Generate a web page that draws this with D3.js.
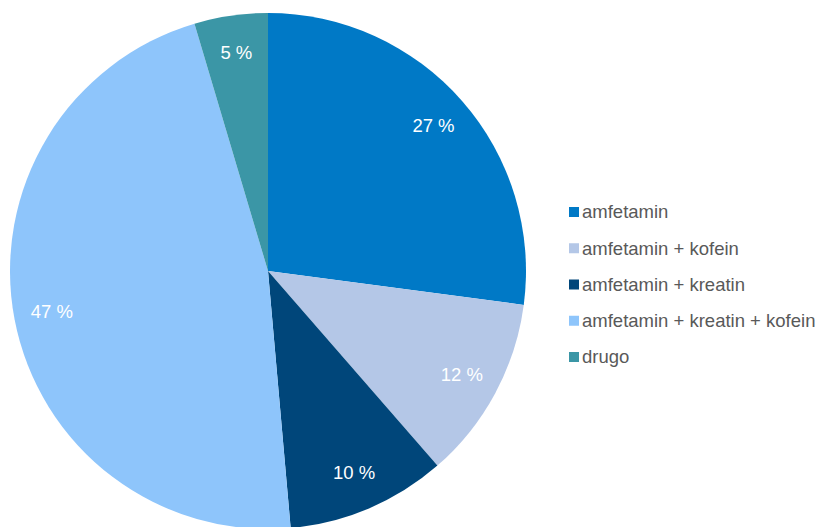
<!DOCTYPE html>
<html>
<head>
<meta charset="utf-8">
<script src="https://cdn.jsdelivr.net/npm/d3@7"></script>
<style>
  body { margin: 0; background: #fff; }
  text { font-family: "Liberation Sans", Arial, sans-serif; }
</style>
</head>
<body>
<div class="pie-chart"></div>
<script>
const categories = ["amfetamin", "amfetamin + kofein", "amfetamin + kreatin", "amfetamin + kreatin + kofein", "drugo"];
const values = [27.1, 11.5, 10.0, 46.8, 4.6];
const labels = ["27 %", "12 %", "10 %", "47 %", "5 %"];
const colors = ["#0079C6", "#B4C7E7", "#00467A", "#8EC5FB", "#3B96A6"];

const width = 818, height = 527;
const cx = 268, cy = 271, radius = 258;

const svg = d3.select(".pie-chart")
    .append("svg")
    .attr("width", width)
    .attr("height", height);

const data = categories.map((c, i) => ({name: c, value: values[i], label: labels[i]}));

const pie = d3.pie()
    .sort(null)
    .value(d => d.value);

const arc = d3.arc()
    .innerRadius(0)
    .outerRadius(radius);

const labelArc = d3.arc()
    .innerRadius(220)
    .outerRadius(220);

const colorScale = d3.scaleOrdinal()
    .domain(categories)
    .range(colors);

const gr = svg.append("g")
    .attr("transform", `translate(${cx},${cy})`);

const arcs = pie(data);

gr.selectAll(".slice")
    .data(arcs)
    .join("path")
    .attr("class", "slice")
    .attr("d", arc)
    .attr("fill", d => colorScale(d.data.name));

gr.selectAll(".lbl")
    .data(arcs)
    .join("text")
    .attr("class", "lbl")
    .attr("transform", d => `translate(${labelArc.centroid(d)})`)
    .attr("text-anchor", "middle")
    .attr("dy", "0.3em")
    .attr("fill", "#fff")
    .attr("font-size", 18.5)
    .text(d => d.data.label);

// legend
const legendY = d3.scalePoint()
    .domain(categories)
    .range([212, 357]);

const legend = svg.append("g")
    .selectAll("g")
    .data(categories)
    .join("g")
    .attr("transform", d => `translate(569,${legendY(d)})`);

legend.append("rect")
    .attr("x", 0)
    .attr("y", -5)
    .attr("width", 10)
    .attr("height", 10)
    .attr("fill", d => colorScale(d));

legend.append("text")
    .attr("x", 13)
    .attr("dy", "0.35em")
    .attr("fill", "#595959")
    .attr("font-size", 18.5)
    .text(d => d);
</script>
</body>
</html>
